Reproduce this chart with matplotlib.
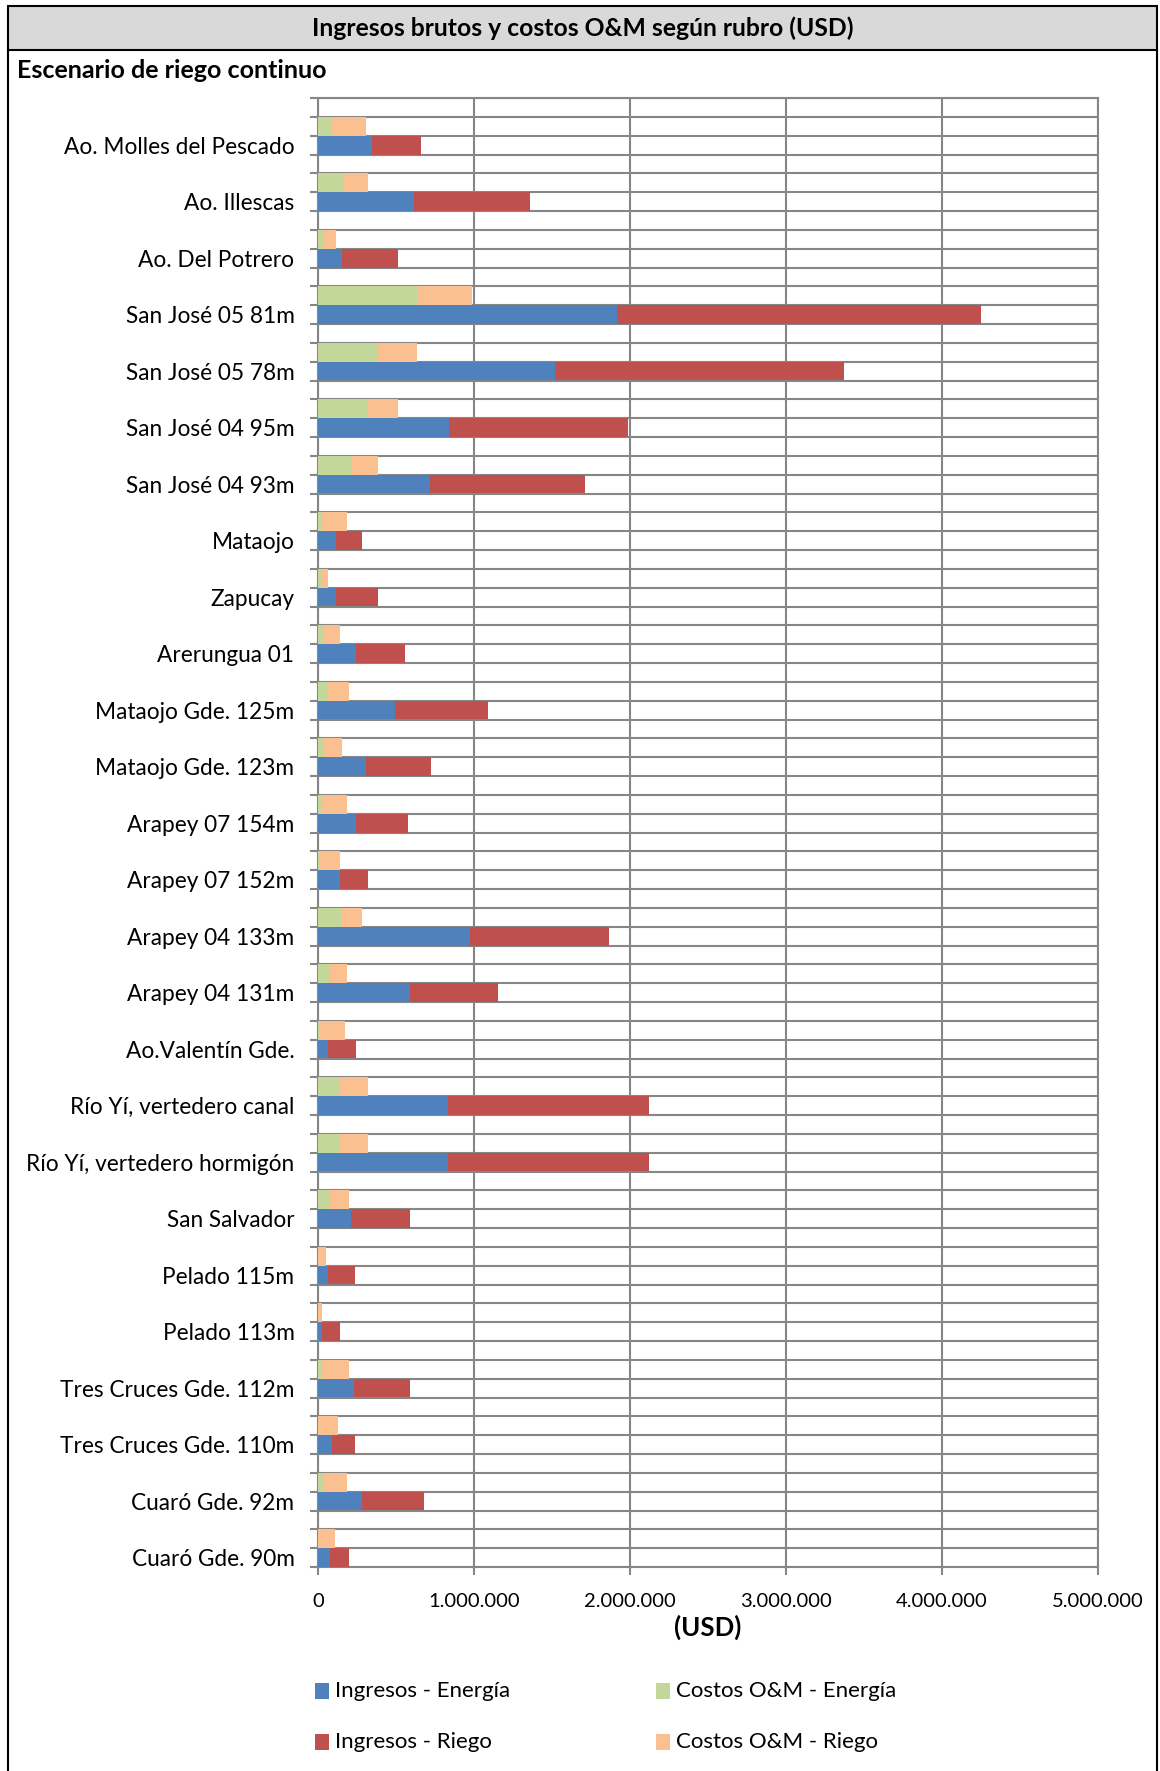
import matplotlib
matplotlib.use('Agg')
import matplotlib.pyplot as plt
from matplotlib.patches import Rectangle
from matplotlib.lines import Line2D

plt.rcParams['font.family'] = ['Lato', 'DejaVu Sans']

sites = ['Ao. Molles del Pescado', 'Ao. Illescas', 'Ao. Del Potrero',
         'San José 05 81m', 'San José 05 78m', 'San José 04 95m',
         'San José 04 93m', 'Mataojo', 'Zapucay', 'Arerungua 01',
         'Mataojo Gde. 125m', 'Mataojo Gde. 123m', 'Arapey 07 154m',
         'Arapey 07 152m', 'Arapey 04 133m', 'Arapey 04 131m',
         'Ao.Valentín Gde.', 'Río Yí, vertedero canal',
         'Río Yí, vertedero hormigón', 'San Salvador', 'Pelado 115m',
         'Pelado 113m', 'Tres Cruces Gde. 112m', 'Tres Cruces Gde. 110m',
         'Cuaró Gde. 92m', 'Cuaró Gde. 90m']

ingresos_energia = [346000, 614000, 151000, 1917000, 1520000, 840000, 720000,
                    114000, 114000, 246000, 492000, 309000, 246000, 138000,
                    972000, 590000, 65000, 836000, 836000, 210000, 65000,
                    26000, 233000, 91000, 285000, 78000]
ingresos_riego = [314000, 746000, 363000, 2334000, 1849000, 1149000, 991000,
                  171000, 268000, 309000, 599000, 417000, 331000, 184000,
                  892000, 563000, 181000, 1285000, 1285000, 380000, 170000,
                  112000, 357000, 144000, 393000, 121000]
costos_energia = [89000, 166000, 40000, 637000, 383000, 323000, 209000,
                  28000, 28000, 39000, 65000, 39000, 28000, 13000,
                  151000, 78000, 13000, 136000, 136000, 78000, 3000,
                  0, 28000, 0, 39000, 0]
costos_riego = [220000, 157000, 77000, 351000, 251000, 191000, 174000,
                158000, 35000, 99000, 134000, 112000, 158000, 125000,
                134000, 108000, 162000, 186000, 186000, 121000, 50000,
                28000, 171000, 125000, 147000, 112000]

xticks = [0, 1000000, 2000000, 3000000, 4000000, 5000000]
xtick_labels = ['0', '1.000.000', '2.000.000', '3.000.000', '4.000.000', '5.000.000']

c_blue = '#4f81bd'
c_red = '#c0504d'
c_green = '#c4d79b'
c_orange = '#fac090'
c_grid = '#868686'

W, H = 1160, 1771
fig = plt.figure(figsize=(W / 100, H / 100), dpi=100)

# frame and title bar
fig.add_artist(Rectangle((8 / W, 1 - 50 / H), (1157 - 8) / W, 44 / H,
                         transform=fig.transFigure, facecolor='#d9d9d9',
                         edgecolor='black', linewidth=1.5))
fig.add_artist(Line2D([8 / W, 8 / W], [0, 1 - 50 / H], transform=fig.transFigure,
                      color='black', linewidth=1.5))
fig.add_artist(Line2D([1157 / W, 1157 / W], [0, 1 - 50 / H], transform=fig.transFigure,
                      color='black', linewidth=1.5))
fig.text(0.5 * (8 + 1157) / W, 1 - 28 / H,
         'Ingresos brutos y costos O&M según rubro (USD)',
         ha='center', va='center', fontsize=17.8, fontweight='bold')
fig.text(17 / W, 1 - 71 / H, 'Escenario de riego continuo',
         ha='left', va='center', fontsize=18, fontweight='bold')

x0, x1, y0, y1 = 318, 1098, 98, 1567
ax = fig.add_axes([x0 / W, 1 - y1 / H, (x1 - x0) / W, (y1 - y0) / H])

n = len(sites)
cost_pos = [3 * i + 1.5 for i in range(n)]
rev_pos = [3 * i + 2.5 for i in range(n)]

ax.barh(rev_pos, ingresos_energia, height=1.0, color=c_blue, zorder=3)
ax.barh(rev_pos, ingresos_riego, left=ingresos_energia, height=1.0,
        color=c_red, zorder=3)
ax.barh(cost_pos, costos_energia, height=1.0, color=c_green, zorder=3)
ax.barh(cost_pos, costos_riego, left=costos_energia, height=1.0,
        color=c_orange, zorder=3)

ax.set_xlim(0, 5000000)
ax.set_ylim(3 * n, 0)
ax.set_xticks(xticks)
ax.set_xticklabels(xtick_labels, fontsize=14.5)
ax.set_yticks(range(0, 3 * n + 1))
ax.set_yticklabels([])
ax.set_yticks(rev_pos, minor=True)
ax.set_yticklabels(sites, minor=True, fontsize=16.3)
ax.tick_params(axis='y', which='major', length=6, color=c_grid, width=1.5)
ax.tick_params(axis='y', which='minor', length=0, pad=17)
ax.tick_params(axis='x', length=6, color=c_grid, width=1.5, pad=13)
ax.grid(True, which='major', color=c_grid, linewidth=1.5, zorder=0)
ax.set_axisbelow(True)
for s in ax.spines.values():
    s.set_color(c_grid)
    s.set_linewidth(1.5)
ax.set_xlabel('(USD)', fontsize=18.5, fontweight='bold', labelpad=3)

# legend
leg_items = [(315, 1691, c_blue, 'Ingresos - Energía'),
             (656, 1691, c_green, 'Costos O&M - Energía'),
             (315, 1742, c_red, 'Ingresos - Riego'),
             (656, 1742, c_orange, 'Costos O&M - Riego')]
for lx, ly, col, lab in leg_items:
    fig.add_artist(Rectangle((lx / W, 1 - (ly + 8) / H), 14 / W, 16 / H,
                             transform=fig.transFigure, facecolor=col,
                             edgecolor='none'))
    fig.text((lx + 20) / W, 1 - ly / H, lab, ha='left', va='center', fontsize=16)

fig.savefig('out.png', dpi=100)
